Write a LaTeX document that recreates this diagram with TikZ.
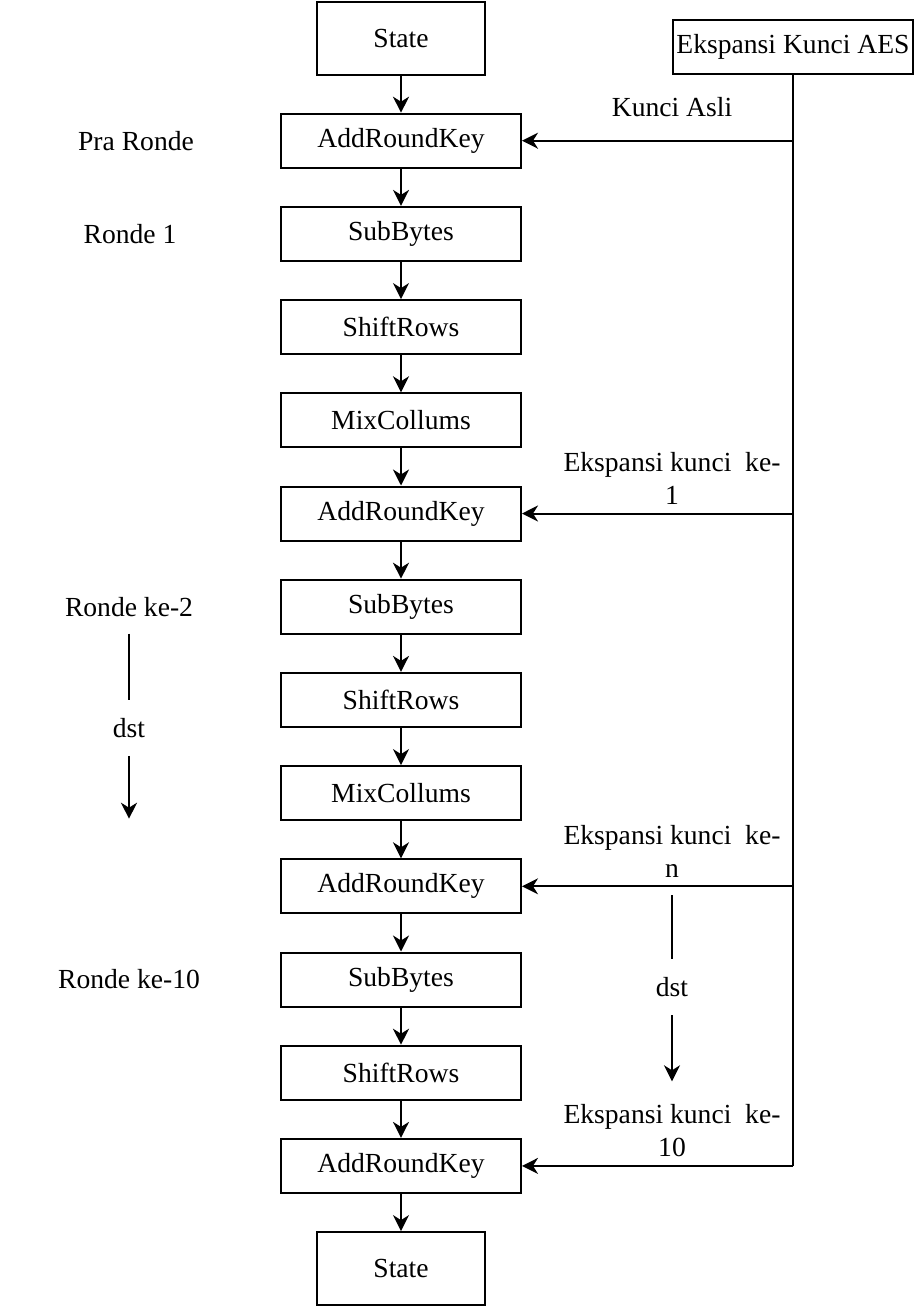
\documentclass[tikz,border=0pt]{standalone}
\usepackage{fontspec}
\setmainfont{Liberation Serif}
\usetikzlibrary{arrows.meta,positioning,calc}
\tikzset{
  stepbox/.style={draw,line width=1pt,minimum width=120pt,minimum height=27pt,inner sep=0pt,font=\fontsize{13.8}{16.5}\selectfont},
  statebox/.style={stepbox,minimum width=84pt,minimum height=36.5pt},
  lbl/.style={inner sep=0pt,align=center,font=\fontsize{13.8}{16.5}\selectfont},
  dstlbl/.style={lbl,inner ysep=9pt},
  wire/.style={line width=1pt},
  arr/.style={-{Stealth[length=8pt,width=8pt,inset=2.5pt]},line width=1pt},
}

\begin{document}
\begin{tikzpicture}[x=0.5pt,y=-0.5pt,node distance=18.6pt]
  \useasboundingbox (0,0) rectangle (915,1307);

  % Main column
  \node[statebox] (s0) at (401,38){State};
  \node[stepbox,below=of s0] (ark1){AddRoundKey};
  \node[stepbox,below=of ark1] (sb1){SubBytes};
  \node[stepbox,below=of sb1] (sr1){ShiftRows};
  \node[stepbox,below=of sr1] (mc1){MixCollums};
  \node[stepbox,below=of mc1] (ark2){AddRoundKey};
  \node[stepbox,below=of ark2] (sb2){SubBytes};
  \node[stepbox,below=of sb2] (sr2){ShiftRows};
  \node[stepbox,below=of sr2] (mc2){MixCollums};
  \node[stepbox,below=of mc2] (ark3){AddRoundKey};
  \node[stepbox,below=of ark3] (sb3){SubBytes};
  \node[stepbox,below=of sb3] (sr3){ShiftRows};
  \node[stepbox,below=of sr3] (ark4){AddRoundKey};
  \node[statebox,below=of ark4] (s1){State};
  \draw[arr](s0)--(ark1);\draw[arr](ark1)--(sb1);
  \draw[arr](sb1)--(sr1);\draw[arr](sr1)--(mc1);
  \draw[arr](mc1)--(ark2);\draw[arr](ark2)--(sb2);
  \draw[arr](sb2)--(sr2);\draw[arr](sr2)--(mc2);
  \draw[arr](mc2)--(ark3);\draw[arr](ark3)--(sb3);
  \draw[arr](sb3)--(sr3);\draw[arr](sr3)--(ark4);
  \draw[arr](ark4)--(s1);

  % Round labels, left
  \node[lbl] (pra) at ($(ark1.west)+(-144,0)$){Pra Ronde};
  \node[lbl] (r1) at ($(sb1.west)+(-150,0)$){Ronde 1};
  \node[lbl] (r2) at ($(sb2.west)+(-151,0)$){Ronde ke-2};
  \node[lbl] (r10) at ($(sb3.west)+(-151,0)$){Ronde ke-10};
  \coordinate (l1) at ($(r2)+(0,27)$);
  \node[dstlbl] (dstL) at ($(r2)+(0,121)$){dst};
  \coordinate (l2) at ($(r2)+(0,212)$);
  \draw[wire](l1)--(dstL);\draw[arr](dstL)--(l2);

  % Key expansion, right
  \node[stepbox] (kexp) at (793,47){Ekspansi Kunci AES};
  \draw[wire](kexp.south)--(kexp.south |- ark4);
  \draw[arr](kexp.south |- ark1)--(ark1.east);
  \draw[arr](kexp.south |- ark2)--(ark2.east);
  \draw[arr](kexp.south |- ark3)--(ark3.east);
  \draw[arr](kexp.south |- ark4)--(ark4.east);
  \node[lbl] (ka) at ($(ark1.east)+(150,-34)$){Kunci Asli};
  \node[lbl] (k1) at ($(ark2.east)+(150,-35)$){Ekspansi kunci\ \ ke-\\1};
  \node[lbl] (kn) at ($(ark3.east)+(150,-35)$){Ekspansi kunci\ \ ke-\\n};
  \node[lbl] (k10) at ($(ark4.east)+(150,-35)$){Ekspansi kunci\ \ ke-\\10};
  \coordinate (m1) at ($(ark3.east)+(150,9)$);
  \node[dstlbl] (dstR) at ($(ark3.east)+(150,101)$){dst};
  \coordinate (m2) at ($(ark3.east)+(150,195)$);
  \draw[wire](m1)--(dstR);\draw[arr](dstR)--(m2);
\end{tikzpicture}
\end{document}
